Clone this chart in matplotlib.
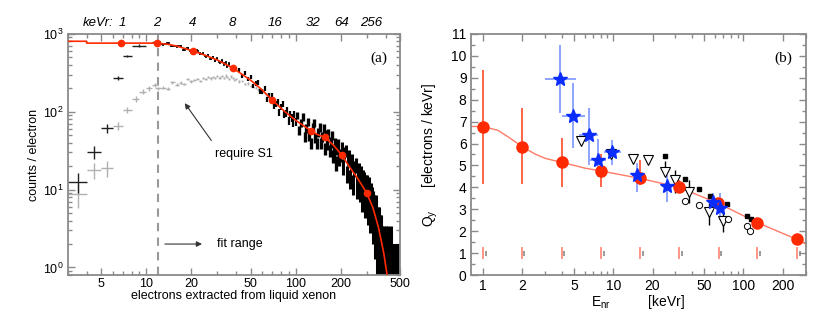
import numpy as np
import matplotlib
matplotlib.use("Agg")
import matplotlib.pyplot as plt
from matplotlib.ticker import FixedLocator, FixedFormatter, NullFormatter

plt.rcParams['font.family'] = ['Liberation Sans', 'DejaVu Sans']
plt.rcParams['mathtext.fontset'] = 'custom'
plt.rcParams['mathtext.rm'] = 'Liberation Sans'
plt.rcParams['mathtext.it'] = 'Liberation Sans:italic'

# ---- panel (a): electron spectrum ----
# low-x bins (wide), black = all events, gray = require S1
lo_x = [3.5, 4.5, 5.5, 6.5, 7.5, 9.0, 11.5]
lo_y = [12.7, 30.5, 61, 271, 521, 707, 790]
lo_xerr = [0.5, 0.5, 0.5, 0.5, 0.5, 1.0, 0.5]
s1_lo_x = [3.5, 4.5, 5.5, 6.5, 7.5, 8.5, 9.5, 10.5, 11.5]
s1_lo_y = [8.7, 17.9, 18.7, 66, 106, 146, 181, 200, 220]

# black histogram, counts / electron
blk_x1 = list(range(12, 41))
blk_y1 = [790, 735, 760, 705, 690, 700, 630, 655, 600, 575, 610, 555, 560, 515, 535,
          480, 500, 455, 480, 430, 455, 410, 425, 385, 410, 365, 385, 340, 360]
blk_x2 = list(range(42, 101, 2))
blk_y2 = [347, 290, 319, 264, 280, 216, 231, 237, 182, 185, 198, 145, 164, 141, 162,
          121, 127, 133, 99, 116, 125, 94, 95, 104, 77, 94, 84, 72, 92, 74]
blk_x3 = list(range(103, 200, 3))
blk_y3 = [90, 58, 72, 86, 48, 61, 74, 49, 40, 63, 73, 47, 40, 55, 63, 40, 48, 62, 34,
          51, 39, 52, 32, 41, 50, 27, 32, 40, 22, 34, 39, 25, 28]
blk_x4 = list(range(204, 501, 4))
blk_y4 = [35, 20, 30, 32, 16, 25, 27, 14, 22, 24, 12, 19, 21, 11, 17, 18, 10, 15, 16, 8,
          14, 13, 7, 12, 12, 6, 11, 9, 5, 9, 8, 4, 7, 6, 3, 6, 5, 2, 4, 4, 2, 3, 3, 1, 2,
          1, 2, 1, 1, 2, 1, 1, 1, 2, 1, 1, 1, 1, 2, 1, 1, 1, 1, 1, 1, 1, 1, 1, 1, 1, 1,
          1, 1, 1, 1]

# gray "require S1" histogram before it merges with the black one
s1_x = list(range(12, 41)) + list(range(42, 65, 2))
s1_y = [200, 205, 198, 240, 222, 236, 228, 265, 245, 255, 262, 250, 270, 262, 280,
        268, 278, 270, 290, 275, 286, 270, 292, 280, 265, 285, 270, 255, 262,
        245, 250, 228, 232, 215, 210, 205, 195, 190, 178, 172, 160]

# red fit and keVr markers
fit_x = [3, 4, 4, 12, 14, 16, 20.6, 25, 30, 38, 50, 60, 70, 85, 100, 115, 127, 140,
         157, 180, 204, 230, 260, 300, 330, 360, 390, 410]
fit_y = [805, 805, 762, 762, 735, 700, 604, 530, 462, 365, 255, 190, 141, 100, 78,
         65, 56.5, 51, 47, 37, 27.7, 19.5, 14, 9.0, 5.8, 3.2, 1.5, 0.8]
kev_x = [6.8, 11.8, 20.6, 38, 70, 127, 157, 204, 300]
kev_y = [766, 766, 604, 365, 141, 56.5, 47, 27.7, 9.0]
top_lab = ['1', '2', '4', '8', '16', '32', '64', '256']
top_lab_x = [6.9, 11.8, 20.6, 38, 72.5, 130, 203, 321]

# ---- panel (b): Qy ----
qy_e = [1, 2, 4, 8, 16, 32, 64, 128, 256]
qy = [6.77, 5.85, 5.14, 4.75, 4.41, 4.0, 3.27, 2.39, 1.63]
qy_lo = [4.15, 4.15, 4.0, 4.0, 4.1, 3.73, 3.1, 2.3, 1.58]
qy_hi = [9.37, 7.6, 6.27, 5.52, 5.25, 4.34, 3.45, 2.48, 1.68]
qfit_x = [0.8, 1, 1.3, 1.6, 2, 2.5, 3, 4, 5, 6, 8, 16, 32, 64, 128, 256, 300]
qfit_y = [6.78, 6.77, 6.6, 6.25, 5.85, 5.52, 5.32, 5.14, 5.0, 4.88, 4.75, 4.41, 4.0,
          3.27, 2.39, 1.63, 1.42]
mark_red_x = [1.0, 1.98, 4.03, 8.05, 16.1, 32, 64.5, 128, 257]
mark_gray_x = [1.04, 2.07, 4.2, 8.4, 16.8, 33.5, 67.4, 134, 270]

star_x = [3.91, 4.9, 6.45, 7.63, 9.75, 15.2, 25.8, 58, 66.5]
star_y = [8.96, 7.27, 6.39, 5.25, 5.63, 4.57, 4.06, 3.32, 3.04]
star_xlo = [2.96, 4.0, 5.45, 6.6, 8.5, 13.9, 23.5, 54, 62]
star_xhi = [5.14, 6.0, 7.6, 8.8, 11.5, 16.6, 28, 62, 71]
star_ylo = [7.38, 5.78, 5.0, 4.49, 5.02, 3.8, 3.34, 2.89, 2.51]
star_yhi = [10.5, 8.75, 7.61, 6.2, 6.16, 5.1, 4.56, 3.73, 3.73]

tri_x = [5.68, 9.6, 14.1, 18.5, 25, 29.6, 38, 54.4, 69.3]
tri_y = [6.13, 5.52, 5.28, 5.25, 4.72, 4.34, 3.8, 2.89, 2.48]
tri_ylo = [6.13, 5.35, 5.28, 5.25, 4.72, 3.74, 3.28, 2.28, 1.98]
tri_yhi = [6.13, 5.75, 5.28, 5.25, 5.2, 4.79, 4.34, 3.28, 3.06]

sq_x = [25, 35.4, 45.3, 55.6, 75, 105.7, 115]
sq_y = [5.45, 4.38, 3.91, 3.62, 3.23, 2.69, 2.56]
circ_x = [35.3, 45.3, 76, 105.7, 113]
circ_y = [3.39, 3.19, 2.56, 2.24, 2.02]

RED = '#ff2a00'
FRAME = '#8a8a8a'

fig = plt.figure(figsize=(8.22, 3.36), dpi=100)
axa = fig.add_axes([0.0827, 0.1815, 0.4039, 0.7175])
axb = fig.add_axes([0.5726, 0.1815, 0.4074, 0.7175])


def style_axes(ax):
    for s in ax.spines.values():
        s.set_color(FRAME)
        s.set_linewidth(1.3)
    ax.tick_params(which='both', direction='in', top=True, right=True,
                   color=FRAME, labelsize=9, pad=3)
    ax.tick_params(which='major', length=5, width=1)
    ax.tick_params(which='minor', length=3, width=1)


# panel (a)
axa.set_xscale('log')
axa.set_yscale('log')
axa.errorbar(s1_lo_x, s1_lo_y, xerr=0.5, yerr=np.sqrt(s1_lo_y), fmt='none',
             ecolor='#b0b0b0', elinewidth=1)
axa.errorbar(s1_x, s1_y, xerr=0.5, yerr=np.sqrt(s1_y) * 0.6, fmt='none',
             ecolor='#b0b0b0', elinewidth=1)
axa.errorbar(lo_x, lo_y, xerr=lo_xerr, yerr=np.sqrt(lo_y), fmt='none',
             ecolor='#202020', elinewidth=1)
for bx, by, lw in [(blk_x1, blk_y1, 1.2), (blk_x2, blk_y2, 1.6),
                   (blk_x3, blk_y3, 2.4), (blk_x4, blk_y4, 2.2)]:
    by = np.array(by, dtype=float)
    axa.errorbar(bx, by, xerr=0.5, yerr=np.sqrt(by), fmt='none',
                 ecolor='black', elinewidth=lw)
axa.plot(fit_x, fit_y, color=RED, lw=1.2, zorder=5)
axa.plot(kev_x, kev_y, 'o', color=RED, ms=4.5, zorder=6)
axa.axvline(12, color='#999999', ls=(0, (4, 3)), lw=1.5, zorder=1)
axa.set_xlim(3, 500)
axa.set_ylim(0.8, 1000)
axa.xaxis.set_major_locator(FixedLocator([5, 10, 20, 50, 100, 200, 500]))
axa.xaxis.set_major_formatter(FixedFormatter(['5', '10', '20', '50', '100', '200', '500']))
axa.xaxis.set_minor_locator(FixedLocator([3, 4, 6, 7, 8, 9, 30, 40, 60, 70, 80, 90,
                                          300, 400]))
axa.xaxis.set_minor_formatter(NullFormatter())
axa.yaxis.set_major_locator(FixedLocator([1, 10, 100, 1000]))
axa.yaxis.set_major_formatter(FixedFormatter(['$10^0$', '$10^1$', '$10^2$', '$10^3$']))
axa.set_xlabel('electrons extracted from liquid xenon', fontsize=9, labelpad=0)
axa.set_ylabel('counts / electron', fontsize=9, labelpad=2)
style_axes(axa)
axa.tick_params(axis='x', which='major', pad=2)
axa.text(0.09, 1.02, 'keVr:', transform=axa.transAxes, fontsize=9.5,
         style='italic', ha='center', va='bottom')
for lab, lx in zip(top_lab, top_lab_x):
    axa.text(lx, 1.02, lab, transform=axa.get_xaxis_transform(), fontsize=9.5,
             style='italic', ha='center', va='bottom')
axa.text(0.935, 0.9, '(a)', transform=axa.transAxes, fontsize=11,
         family='Liberation Serif', ha='center', va='center')
axa.annotate('', xy=(17.7, 138), xytext=(28, 40),
             arrowprops=dict(arrowstyle='-|>', color='#333333', lw=0.8,
                             mutation_scale=8))
axa.text(29, 28.5, 'require S1', fontsize=9, va='center', ha='left')
axa.annotate('', xy=(24.7, 2.0), xytext=(12.8, 2.0),
             arrowprops=dict(arrowstyle='-|>', color='#333333', lw=0.8,
                             mutation_scale=8))
axa.text(30, 2.0, 'fit range', fontsize=9, va='center', ha='left')

# panel (b)
axb.set_xscale('log')
axb.plot(qfit_x, qfit_y, color='#ff7a66', lw=1, zorder=2)
axb.vlines(mark_red_x, 0.72, 1.29, color='#ff5a40', lw=1.1, alpha=0.8)
axb.vlines(mark_gray_x, 0.88, 1.11, color='#808080', lw=1.1)
axb.errorbar(star_x, star_y,
             xerr=[np.subtract(star_x, star_xlo), np.subtract(star_xhi, star_x)],
             yerr=[np.subtract(star_y, star_ylo), np.subtract(star_yhi, star_y)],
             fmt='none', ecolor='#6f8bff', elinewidth=1.1, zorder=3)
axb.errorbar(tri_x, tri_y,
             yerr=[np.subtract(tri_y, tri_ylo), np.subtract(tri_yhi, tri_y)],
             fmt='none', ecolor='black', elinewidth=1, zorder=3)
axb.errorbar(qy_e, qy, yerr=[np.subtract(qy, qy_lo), np.subtract(qy_hi, qy)],
             fmt='none', ecolor='#ff4a2a', elinewidth=1.2, zorder=3)
axb.plot(tri_x, tri_y, 'v', mfc='white', mec='black', mew=0.8, ms=7, zorder=4)
axb.plot(sq_x, sq_y, 's', color='black', ms=3.5, zorder=4)
axb.plot(circ_x, circ_y, 'o', mfc='white', mec='black', mew=0.7, ms=4.5, zorder=4)
axb.plot(qy_e, qy, 'o', color=RED, ms=8, zorder=5)
axb.plot(star_x, star_y, '*', color='#0a2cff', ms=10, zorder=6)
axb.set_xlim(0.8, 300)
axb.set_ylim(0, 11)
axb.xaxis.set_major_locator(FixedLocator([1, 2, 5, 10, 20, 50, 100, 200]))
axb.xaxis.set_major_formatter(FixedFormatter(['1', '2', '5', '10', '20', '50', '100', '200']))
axb.xaxis.set_minor_locator(FixedLocator([3, 4, 6, 7, 8, 9, 30, 40, 60, 70, 80, 90, 300]))
axb.xaxis.set_minor_formatter(NullFormatter())
axb.yaxis.set_major_locator(FixedLocator(list(range(0, 12))))
axb.yaxis.set_minor_locator(FixedLocator(list(np.arange(0.5, 11, 1.0))))
axb.set_xlabel(r'$\mathregular{E_{nr}}$          [keVr]', fontsize=10, labelpad=0)
axb.set_ylabel(r'$\mathregular{Q_y}$      [electrons / keVr]', fontsize=10, labelpad=8)
style_axes(axb)
axb.tick_params(labelsize=10)
axb.text(0.935, 0.9, '(b)', transform=axb.transAxes, fontsize=11,
         family='Liberation Serif', ha='center', va='center')

fig.savefig('out.png', dpi=100)
